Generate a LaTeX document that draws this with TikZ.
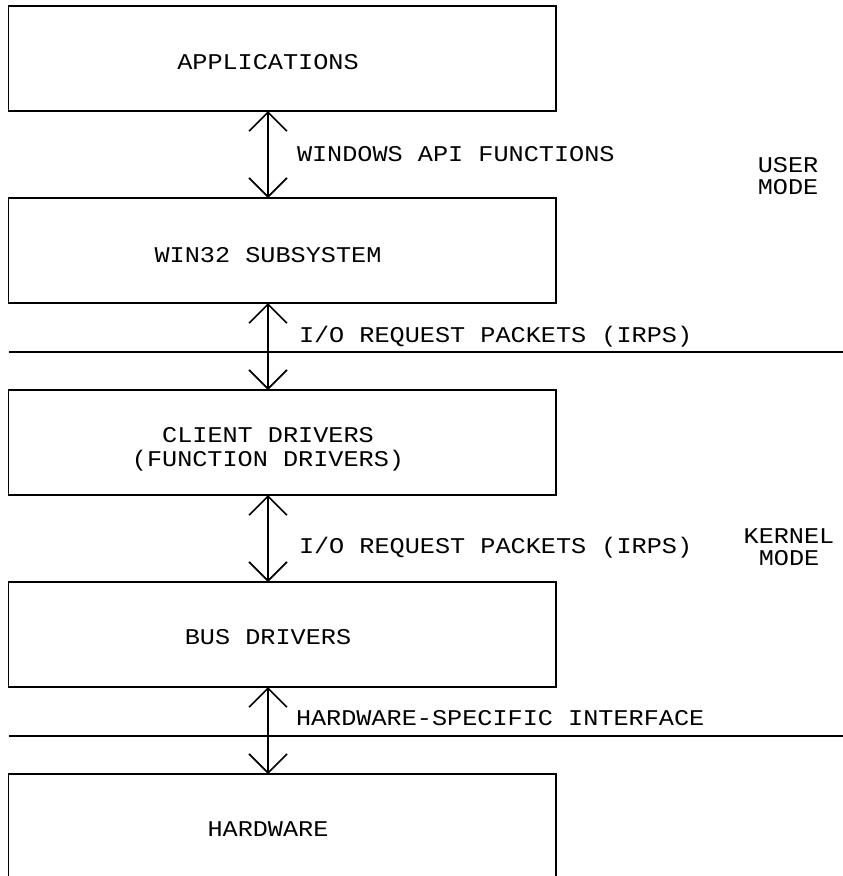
\documentclass[tikz,border=0pt]{standalone}
\usepackage{fontspec}
\setmainfont{Liberation Mono}[FakeStretch=1.12]
\usetikzlibrary{arrows.meta,calc}
\begin{document}
\begin{tikzpicture}[x=1pt,y=-1pt,
  box/.style={draw, line width=1.6pt, minimum width=547.5pt, minimum height=105pt,
              inner sep=0pt, outer sep=0pt, anchor=north west},
  txt/.style={inner sep=0pt, outer sep=0pt, font=\fontsize{22.5}{24}\selectfont, anchor=base},
  multi/.style={inner sep=0pt, outer sep=0pt, font=\fontsize{22.5}{24}\selectfont, align=center, anchor=north},
  modes/.style={multi, font=\fontsize{22.5}{22}\selectfont},
  lbl/.style={inner sep=0pt, outer sep=0pt, font=\fontsize{22.5}{24}\selectfont, anchor=base west},
  lnk/.style={line width=1.6pt, {Straight Barb[length=19pt,width=38pt]}-{Straight Barb[length=19pt,width=38pt]}},
  sepline/.style={line width=1.6pt}]
\useasboundingbox (0,0) rectangle (843,876);
\clip (0,0) rectangle (843,876);
% boxes
\node[box] (b1) at (8.5,6) {};
\node[box] (b2) at (8.5,198) {};
\node[box] (b3) at (8.5,390) {};
\node[box] (b4) at (8.5,582) {};
\node[box, minimum height=120pt] (b5) at (8.5,774) {};
% box texts
\node[txt] (t1) at (268,69.4) {APPLICATIONS};
\node[txt] (t2) at (268,262) {WIN32 SUBSYSTEM};
\node[multi] (t3) at (268,427.6) {CLIENT DRIVERS\\(FUNCTION DRIVERS)};
\node[txt] (t4) at (268,644.4) {BUS DRIVERS};
\node[txt] (t5) at (268,836.4) {HARDWARE};
% connectors
\coordinate (ax) at (268,0);
\draw[lnk] (b1.south -| ax) -- (b2.north -| ax);
\draw[lnk] (b2.south -| ax) -- (b3.north -| ax);
\draw[lnk] (b3.south -| ax) -- (b4.north -| ax);
\draw[lnk] (b4.south -| ax) -- (b5.north -| ax);
% connector labels
\node[lbl] (l1) at (297,161.4) {WINDOWS API FUNCTIONS};
\node[lbl] (l2) at (299,342.4) {I/O REQUEST PACKETS (IRPS)};
\node[lbl] (l3) at (299,553.4) {I/O REQUEST PACKETS (IRPS)};
\node[lbl] (l4) at (296,725.4) {HARDWARE-SPECIFIC INTERFACE};
% mode boundaries
\coordinate (s1a) at (8.5,352);
\coordinate (s1b) at (843,352);
\coordinate (s2a) at (8.5,736);
\coordinate (s2b) at (843,736);
\draw[sepline] (s1a) -- (s1b);
\draw[sepline] (s2a) -- (s2b);
% mode labels
\node[modes] (m1) at (788,157.6) {USER\\MODE};
\node[modes] (m2) at (789,529) {KERNEL\\MODE};
\end{tikzpicture}
\end{document}
